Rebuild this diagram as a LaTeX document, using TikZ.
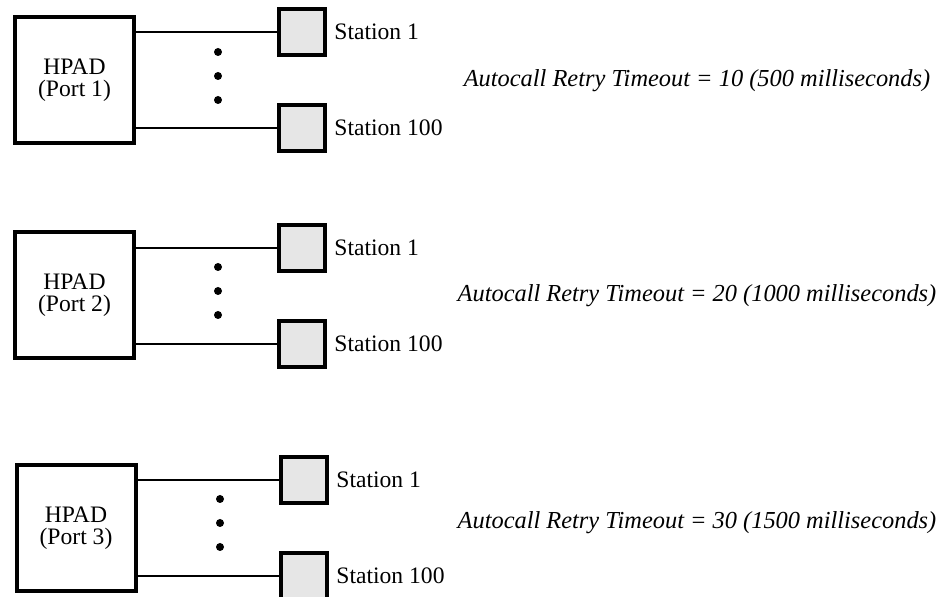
\documentclass[tikz,border=0pt]{standalone}
\usepackage{fontspec}
\setmainfont{Liberation Serif}
\usetikzlibrary{positioning}
\definecolor{stationgray}{RGB}{230,230,230}
\tikzset{
  wire/.style={black,line width=0.75pt},
  hpad/.style={draw=black,line width=2pt,fill=white,minimum width=59.5pt,
               minimum height=63pt,inner sep=0pt,align=center,
               font=\fontsize{11.8}{11.2}\selectfont},
  station/.style={draw=black,line width=2pt,fill=stationgray,minimum size=23pt,inner sep=0pt},
  lab/.style={font=\fontsize{11.8}{14}\selectfont,inner sep=0pt},
  timeout/.style={font=\fontsize{12.2}{14}\selectfont\itshape,inner sep=0pt},
}

\begin{document}
\begin{tikzpicture}[x=0.5pt,y=-0.5pt]
  \path[use as bounding box] (0,0) rectangle (942,597);

  % port 1
  \node[hpad] (hpad1) at (74.5,80) {HPAD\\(Port 1)};
  \node[station] (st1a) at (302,32) {};
  \node[station] (st1b) at (302,128) {};
  \draw[wire] (st1a.west) -- (st1a.west -| hpad1.east);
  \draw[wire] (st1b.west) -- (st1b.west -| hpad1.east);
  \fill (218,52) circle (2pt) (218,76) circle (2pt) (218,100) circle (2pt);
  \node[lab,right=3.5pt of st1a] (lab1a) {Station 1};
  \node[lab,right=3.5pt of st1b] (lab1b) {Station 100};
  \node[timeout] (to1) at (697,81) {Autocall Retry Timeout = 10 (500 milliseconds)};

  % port 2
  \node[hpad] (hpad2) at (74.5,295) {HPAD\\(Port 2)};
  \node[station] (st2a) at (302,248) {};
  \node[station] (st2b) at (302,344) {};
  \draw[wire] (st2a.west) -- (st2a.west -| hpad2.east);
  \draw[wire] (st2b.west) -- (st2b.west -| hpad2.east);
  \fill (218,267) circle (2pt) (218,291) circle (2pt) (218,315) circle (2pt);
  \node[lab,right=3.5pt of st2a] (lab2a) {Station 1};
  \node[lab,right=3.5pt of st2b] (lab2b) {Station 100};
  \node[timeout] (to2) at (697,296) {Autocall Retry Timeout = 20 (1000 milliseconds)};

  % port 3
  \node[hpad] (hpad3) at (76,528) {HPAD\\(Port 3)};
  \node[station] (st3a) at (304,480) {};
  \node[station] (st3b) at (304,576) {};
  \draw[wire] (st3a.west) -- (st3a.west -| hpad3.east);
  \draw[wire] (st3b.west) -- (st3b.west -| hpad3.east);
  \fill (220,499) circle (2pt) (220,523) circle (2pt) (220,547) circle (2pt);
  \node[lab,right=3.5pt of st3a] (lab3a) {Station 1};
  \node[lab,right=3.5pt of st3b] (lab3b) {Station 100};
  \node[timeout] (to3) at (697,523) {Autocall Retry Timeout = 30 (1500 milliseconds)};
\end{tikzpicture}
\end{document}
